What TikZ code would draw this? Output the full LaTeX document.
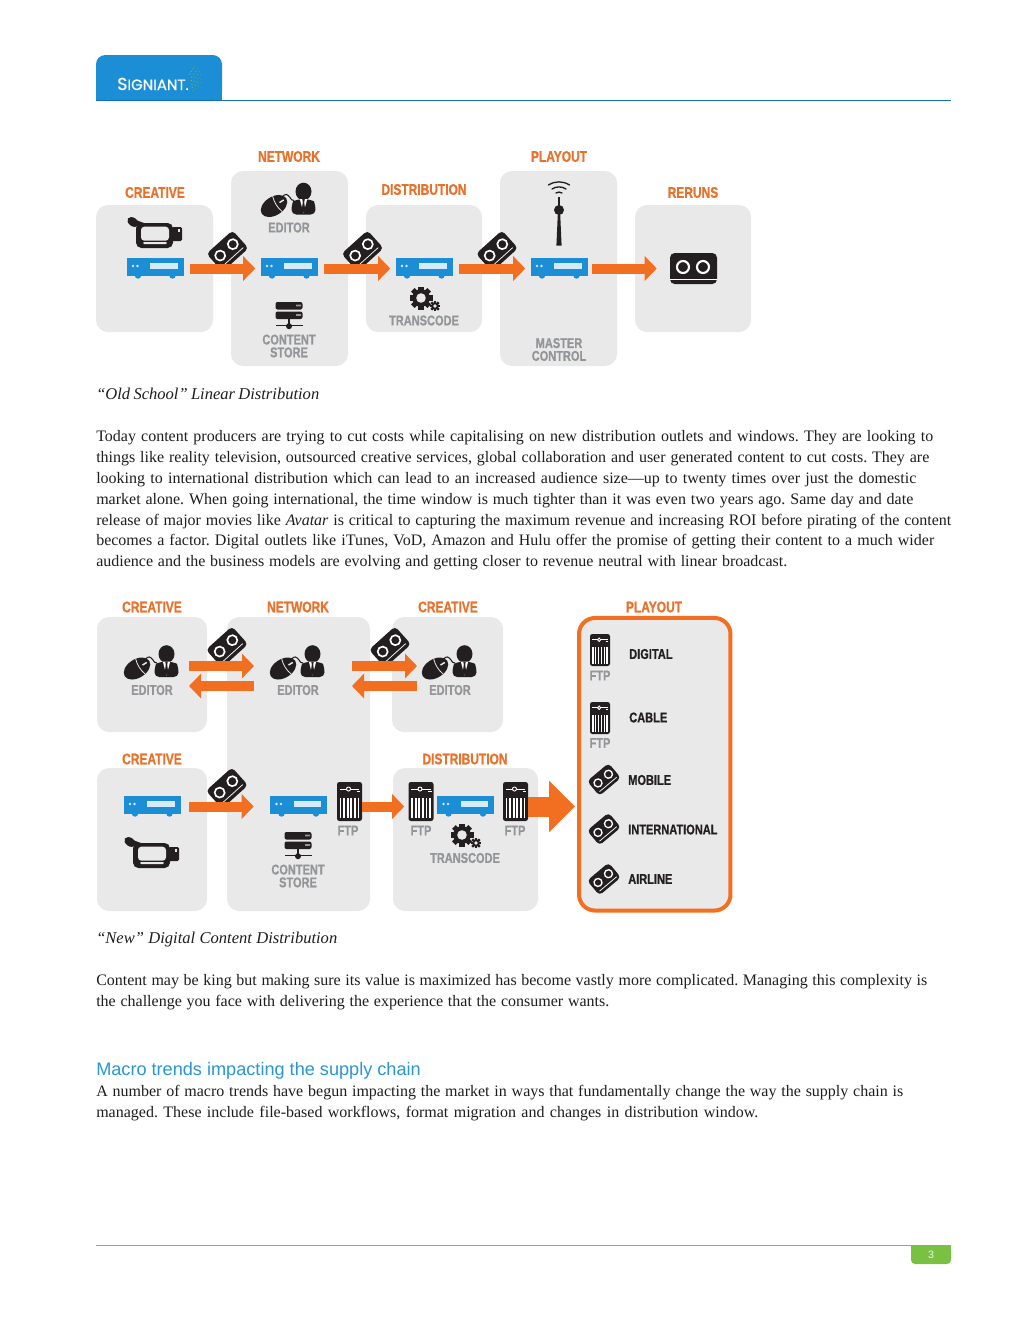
\documentclass[tikz,border=0pt]{standalone}
\usepackage{fontspec}
\usetikzlibrary{arrows.meta,calc}
\setmainfont{Liberation Serif}
\newfontfamily\labf[FakeStretch=0.78,BoldFeatures={FakeBold=0.8}]{Liberation Sans}
\newfontfamily\sansf{Liberation Sans}
\newfontfamily\logof[FakeBold=0.7]{Poppins}
\definecolor{boxg}{HTML}{E9E9E9}
\definecolor{orng}{HTML}{F26F21}
\definecolor{orlab}{HTML}{E8722C}
\definecolor{gryl}{HTML}{939598}
\definecolor{blu}{HTML}{1B8ED6}
\definecolor{dk}{HTML}{231F20}
\definecolor{txt}{HTML}{1E1E1E}
\definecolor{hblue}{HTML}{2A96D2}
\definecolor{grn}{HTML}{7AC143}
\tikzset{
 panel/.style={fill=boxg,rounded corners=9pt,draw=none,inner sep=0pt},
 olab/.style={font=\labf\bfseries\fontsize{11.5pt}{11pt}\selectfont,text=orlab,inner sep=0pt},
 glab/.style={font=\labf\bfseries\fontsize{10.6pt}{9.6pt}\selectfont,text=gryl,align=center,inner sep=0pt},
 klab/.style={font=\labf\bfseries\fontsize{10.6pt}{11pt}\selectfont,text=dk,anchor=west,inner sep=0pt},
 flow/.style={draw=orng,line width=7.5pt,-{Triangle[length=9pt,width=18pt]}},
 bigflow/.style={draw=orng,line width=15pt,-{Triangle[length=19.5pt,width=37.5pt]}},
 srvbox/.style={minimum width=42.75pt,minimum height=15.75pt,inner sep=0pt,draw=none},
 tline/.style={anchor=base west,inner sep=0pt,text=txt,font=\fontsize{12pt}{14pt}\selectfont\frenchspacing},
 capline/.style={anchor=base west,inner sep=0pt,text=txt,font=\itshape\fontsize{12.4pt}{14pt}\selectfont\frenchspacing},
}
% x y are pixel coordinates, y downward
\newcommand{\panelbox}[5]{\path[panel] (#2,#3) rectangle (#4,#5) node[pos=.5,inner sep=0pt] (#1) {};}
% server: name cx top
\newcommand{\srv}[3]{%
 \node[srvbox] (#1) at (#2,#3+10.5) {};
 \fill[blu] (#2-17,#3+17.5) circle (3.2) (#2+17.5,#3+17.5) circle (3.2);
 \fill[blu] (#2-28.5,#3) rectangle (#2+28.5,#3+17.5);
 \fill[white!82!blu] (#2-5,#3+5) rectangle (#2+22.5,#3+10.8);
 \fill[white!82!blu] (#2-22,#3+8) circle (1.3) (#2-17.5,#3+8) circle (1.3);
}
% tape: name cx cy angle scale
\newcommand{\tape}[5]{%
 \node[minimum width=#5*36pt*0.75,minimum height=#5*24pt*0.75,inner sep=0pt,rotate=#4] (#1) at (#2,#3) {};
 \begin{scope}[shift={(#2,#3)},rotate=#4,scale=#5]
  \fill[dk,rounded corners=3pt] (-17.5,-12) rectangle (17.5,12);
  \draw[white,line width=.55pt] (-14,8) -- (14,8);
  \draw[white,line width=#5*1.25pt,fill=dk] (-8.5,-1.5) circle (5) (8.5,-1.5) circle (5);
 \end{scope}
}
% flat tape
\newcommand{\flattape}[3]{%
 \node[minimum width=35.25pt,minimum height=23.25pt,inner sep=0pt] (#1) at (#2,#3) {};
 \begin{scope}[shift={(#2,#3)}]
  \fill[dk,rounded corners=3.5pt] (-23.5,-15.5) rectangle (23.5,15.5);
  \draw[white,line width=.55pt] (-23.5,11) -- (23.5,11);
  \draw[white,line width=1.6pt,fill=dk] (-10.5,-1.5) circle (6) (9.5,-1.5) circle (6);
 \end{scope}
}
% camera: cx cy
\newcommand{\camera}[2]{%
 \begin{scope}[shift={(#1,#2)}]
  \fill[dk,rounded corners=4pt] (-19,-12) rectangle (18,13);
  \fill[boxg,rounded corners=2.5pt] (-14,-8.3) rectangle (14,5.7);
  \fill[boxg,rounded corners=.8pt] (-12,7) rectangle (12,9);
  \fill[dk,rounded corners=1pt] (17,-8) rectangle (27,6);
  \fill[boxg] (22.5,-6) rectangle (25,-3.5);
  \fill[dk,rotate around={-35:(-22,-13)}] (-22,-13) ellipse (6.2 and 4.2);
  \fill[dk] (-22,-16) -- (-11,-12) -- (-17,-6) -- cycle;
 \end{scope}
}
% editor: name cx labely
\newcommand{\editor}[3]{%
 \node[glab] (#1) at (#2,#3) {EDITOR};
 \begin{scope}[shift={(#2,#3)}]
  \fill[dk] (14.5,-36) ellipse (8 and 8.8);
  \fill[dk,rounded corners=3.5pt] (2.5,-13) -- (2.5,-22) .. controls (4,-26) and (8,-28) .. (14.5,-28) .. controls (21,-28) and (25,-26) .. (26.5,-22) -- (26.5,-13) -- cycle;
  \fill[white] (10.8,-28.5) -- (18.2,-28.5) -- (14.5,-14.5) -- cycle;
  \fill[dk] (13.2,-28.5) -- (15.8,-28.5) -- (15.2,-25.5) -- (16.2,-17.5) -- (14.5,-15) -- (12.8,-17.5) -- (13.8,-25.5) -- cycle;
  \draw[dk,line width=.8pt] (-7,-30) .. controls (-4,-35) and (-1,-33) .. (1,-30) .. controls (2,-28) and (3,-27) .. (5,-27);
  \begin{scope}[shift={(-15,-21.5)},rotate=32]
   \fill[dk] (0,0) ellipse (14.5 and 9.3);
   \draw[boxg,line width=.6pt] (4,-9) .. controls (2,-3) and (2,3) .. (4,9);
   \draw[boxg,line width=1.1pt] (6.5,0) -- (11.5,0);
  \end{scope}
 \end{scope}
}
% store: cx top
\newcommand{\store}[2]{%
 \begin{scope}[shift={(#1,#2)}]
  \fill[dk,rounded corners=1.5pt] (-13.5,0) rectangle (13.5,7.5);
  \fill[dk,rounded corners=1.5pt] (-13.5,9.5) rectangle (13.5,17);
  \fill[gryl] (7,2.5) rectangle (12,4.4) (7,12) rectangle (12,13.9);
  \fill[dk] (-1.3,17) rectangle (1.3,25);
  \fill[dk] (-13.5,22.6) rectangle (13.5,24);
  \fill[dk] (0,24.2) circle (3);
 \end{scope}
}
% ftp: name cx top width height
\newcommand{\ftpicon}[5]{%
 \node[minimum width=#4*0.75pt,minimum height=#5*0.75pt,inner sep=0pt] (#1) at (#2,#3+#5/2) {};
 \begin{scope}[shift={(#2,#3)},xscale=#4/25,yscale=#5/39]
  \fill[dk,rounded corners=1.8pt] (-12.5,0) rectangle (12.5,39);
  \draw[white,line width=.6pt] (-10,7) -- (9.5,7) (7,9.5) -- (10.5,9.5);
  \draw[white,line width=.7pt,fill=dk] (-1,7) circle (2);
  \fill[white] (-9.6,16) rectangle (9.6,36);
  \foreach \xx in {-7.2,-3.6,0,3.6,7.2} \fill[dk] (\xx-.9,16) rectangle (\xx+.9,36);
 \end{scope}
}
% gears: cx cy
\newcommand{\gearic}[2]{%
 \begin{scope}[shift={(#1,#2)}]
  \fill[dk] (0,0) circle (8.8);
  \foreach \aa in {0,45,...,315} \fill[dk,rotate=\aa] (-2.6,-11.5) rectangle (2.6,-7);
  \fill[boxg] (0,0) circle (4.8);
  \fill[dk] (14,8) circle (3.9);
  \foreach \aa in {0,45,...,315} \fill[dk,shift={(14,8)},rotate=\aa] (-1.2,-5.3) rectangle (1.2,-3);
  \fill[boxg] (14,8) circle (1.9);
 \end{scope}
}
\newcommand{\towericon}[1]{%
 \begin{scope}[shift={(#1,0)}]
  \fill[dk] (0,210) circle (5);
  \fill[dk] (-.7,197) rectangle (.7,206);
  \fill[dk] (-1.2,214) -- (1.2,214) -- (2.6,245.5) -- (-2.6,245.5) -- cycle;
  \draw[dk,line width=1pt,line cap=round] (-3,193) .. controls (-1.5,191.8) and (1.5,191.8) .. (3,193);
  \draw[dk,line width=1pt,line cap=round] (-7,189) .. controls (-3,186.2) and (3,186.2) .. (7,189);
  \draw[dk,line width=1pt,line cap=round] (-10.5,185) .. controls (-4,180.8) and (4,180.8) .. (10.5,185);
 \end{scope}
}
% body text line: name x baseline width text
\newcommand{\bodyl}[5]{\node[tline] (#1) at (#2,#3) {\makebox[0.75\dimexpr #4pt\relax][s]{#5}};}
\begin{document}
\begin{tikzpicture}[x=0.75pt,y=-0.75pt]
\useasboundingbox (0,0) rectangle (1024,1325);
\fill[white] (0,0) rectangle (1024,1325);
% header
\fill[blu,rounded corners=7pt] (96,101) |- (222,55) -- (222,101) -- cycle;
\fill[blu] (96,85) rectangle (222,101);
\fill[blu!80!black] (96,100) rectangle (951,101.2);
\node[inner sep=0pt,text=white,anchor=base west,font=\logof\fontsize{13pt}{13pt}\selectfont] (logo) at (117,90) {S\fontsize{11.2pt}{13pt}\selectfont IGNIANT.};
\begin{scope}[shift={(187,78)}]
 \foreach \rr/\cc in {5/90,8/75,11/60,14/45}
  \draw[draw=grn!\cc!blu,line width=.8pt,dotted] (-60:\rr) arc (-60:70:\rr);
\end{scope}
% Diagram 1 panels
\panelbox{p1}{96}{205}{213}{332}
\panelbox{p2}{231}{171}{348}{366}
\panelbox{p3}{366}{205}{482}{332}
\panelbox{p4}{500}{171}{617}{366}
\panelbox{p5}{635}{205}{751}{332}
\node[olab] (l1) at (155,192.5) {CREATIVE};
\node[olab] (l2) at (289,156.5) {NETWORK};
\node[olab] (l3) at (424,189.5) {DISTRIBUTION};
\node[olab] (l4) at (559,156.5) {PLAYOUT};
\node[olab] (l5) at (693,192.5) {RERUNS};
\camera{155}{235}
\editor{ed1}{289}{227.5}
\store{289}{302}
\node[glab] (cs1) at (289,346) {CONTENT\\STORE};
\gearic{421}{298}
\node[glab] (tr1) at (424,320.5) {TRANSCODE};
\towericon{559}
\node[glab] (mc1) at (559,349.5) {MASTER\\CONTROL};
\srv{s1}{155}{258}
\srv{s2}{289}{258}
\srv{s3}{424}{258}
\srv{s4}{559}{258}
\flattape{ft}{693.5}{268.5}
\tape{t1}{227.5}{251}{42}{1}
\tape{t2}{362.5}{251}{42}{1}
\tape{t3}{497}{251}{42}{1}
\draw[flow,shorten <=4.5pt,shorten >=3.75pt] (s1.east) -- (s2.west);
\draw[flow,shorten <=4.5pt,shorten >=3.75pt] (s2.east) -- (s3.west);
\draw[flow,shorten <=4.5pt,shorten >=3.75pt] (s3.east) -- (s4.west);
\draw[flow,shorten <=3pt,shorten >=9.75pt] (s4.east) -- (ft.west);
% captions
\node[capline] (cap1) at (96,399) {\makebox[0.75\dimexpr 223pt\relax][s]{“Old School” Linear Distribution}};
\bodyl{b1}{96}{441}{837}{Today content producers are trying to cut costs while capitalising on new distribution outlets and windows. They are looking to}
\bodyl{b2}{96}{462}{833}{things like reality television, outsourced creative services, global collaboration and user generated content to cut costs. They are}
\bodyl{b3}{96}{483}{820}{looking to international distribution which can lead to an increased audience size—up to twenty times over just the domestic}
\bodyl{b4}{96}{504}{817}{market alone. When going international, the time window is much tighter than it was even two years ago. Same day and date}
\bodyl{b5}{96}{525}{855}{release of major movies like \textit{Avatar} is critical to capturing the maximum revenue and increasing ROI before pirating of the content}
\bodyl{b6}{96}{545}{838}{becomes a factor. Digital outlets like iTunes, VoD, Amazon and Hulu offer the promise of getting their content to a much wider}
\bodyl{b7}{96}{566}{691}{audience and the business models are evolving and getting closer to revenue neutral with linear broadcast.}
% Diagram 2 panels
\panelbox{q1}{97}{617}{207}{732}
\panelbox{q2}{227}{617}{370}{911}
\panelbox{q3}{392}{617}{503}{732}
\panelbox{q4}{97}{768}{207}{911}
\panelbox{q5}{393}{768}{538}{911}
\node[fill=boxg,draw=orng,line width=3pt,rounded corners=12pt,minimum width=113.6pt,minimum height=219.4pt,inner sep=0pt] (q6) at (654.75,764.25) {};
\node[olab] (m1) at (152,607) {CREATIVE};
\node[olab] (m2) at (298,607) {NETWORK};
\node[olab] (m3) at (448,607) {CREATIVE};
\node[olab] (m4) at (654,607) {PLAYOUT};
\node[olab] (m5) at (152,759) {CREATIVE};
\node[olab] (m6) at (465,759) {DISTRIBUTION};
\editor{ed2}{152}{690}
\editor{ed3}{298}{690}
\editor{ed4}{450}{690}
\tape{t4}{227}{647}{42}{1}
\tape{t5}{390}{647}{42}{1}
\tape{t6}{227}{788}{42}{1}
\coordinate (ua) at (189,666);
\coordinate (ub) at (254,666);
\coordinate (uc) at (189,686);
\coordinate (ud) at (254,686);
\coordinate (ue) at (352,666);
\coordinate (uf) at (417,666);
\coordinate (ug) at (352,686);
\coordinate (uh) at (417,686);
\draw[flow] (ua) -- (ub);
\draw[flow] (ud) -- (uc);
\draw[flow] (ue) -- (uf);
\draw[flow] (uh) -- (ug);
\srv{s5}{152}{796}
\srv{s6}{298.5}{796}
\srv{s7}{465.5}{796}
\camera{152}{855}
\store{298}{832}
\node[glab] (cs2) at (298,876) {CONTENT\\STORE};
\ftpicon{f1}{349.5}{782}{25}{39}
\ftpicon{f2}{421}{782}{25}{39}
\ftpicon{f3}{515.5}{782}{25}{39}
\node[glab] (fl1) at (348,830.5) {FTP};
\node[glab] (fl2) at (421,830.5) {FTP};
\node[glab] (fl3) at (515,830.5) {FTP};
\gearic{462}{835}
\node[glab] (tr2) at (465,858) {TRANSCODE};
\draw[flow,shorten <=6.4pt,shorten >=12pt] (s5.east) -- (s6.west);
\draw[flow,shorten >=3pt] (f1.east |- s6.center) -- (f2.west |- s6.center);
\ftpicon{f4}{600}{634}{20}{32}
\ftpicon{f5}{600}{702}{20}{32}
\node[glab] (fl4) at (600,675.5) {FTP};
\node[glab] (fl5) at (600,743) {FTP};
\node[klab] (k1) at (629,654) {DIGITAL};
\node[klab] (k2) at (629,717.5) {CABLE};
\node[klab] (k3) at (628,780) {MOBILE};
\node[klab] (k4) at (628,829.5) {INTERNATIONAL};
\node[klab] (k5) at (628,879) {AIRLINE};
\tape{t7}{604}{779.5}{40}{.8}
\tape{t8}{604}{829}{40}{.8}
\tape{t9}{604}{879}{40}{.8}
\draw[bigflow,shorten >=1.5pt] (f3.east |- s7.center) -- (q6.west |- s7.center);
% lower text
\node[capline] (cap2) at (96,943) {\makebox[0.75\dimexpr 241pt\relax][s]{“New” Digital Content Distribution}};
\bodyl{c1}{96}{985}{831}{Content may be king but making sure its value is maximized has become vastly more complicated. Managing this complexity is}
\bodyl{c2}{96}{1006}{513}{the challenge you face with delivering the experience that the consumer wants.}
\node[anchor=base west,inner sep=0pt,text=hblue,font=\sansf\fontsize{13.6pt}{15pt}\selectfont] (h1) at (96,1075) {Macro trends impacting the supply chain};
\bodyl{d1}{96}{1096}{807}{A number of macro trends have begun impacting the market in ways that fundamentally change the way the supply chain is}
\bodyl{d2}{96}{1117}{662}{managed. These include file-based workflows, format migration and changes in distribution window.}
% footer
\fill[grn] (96,1245) rectangle (951,1246.2);
\fill[grn,rounded corners=3pt] (911,1245) -- (911,1264) -- (951,1264) -- (951,1245) -- cycle;
\fill[grn] (911,1245) rectangle (951,1252);
\node[inner sep=0pt,text=white!85!grn,font=\sansf\fontsize{8pt}{9pt}\selectfont] (pg) at (931,1255) {3};
\end{tikzpicture}
\end{document}
